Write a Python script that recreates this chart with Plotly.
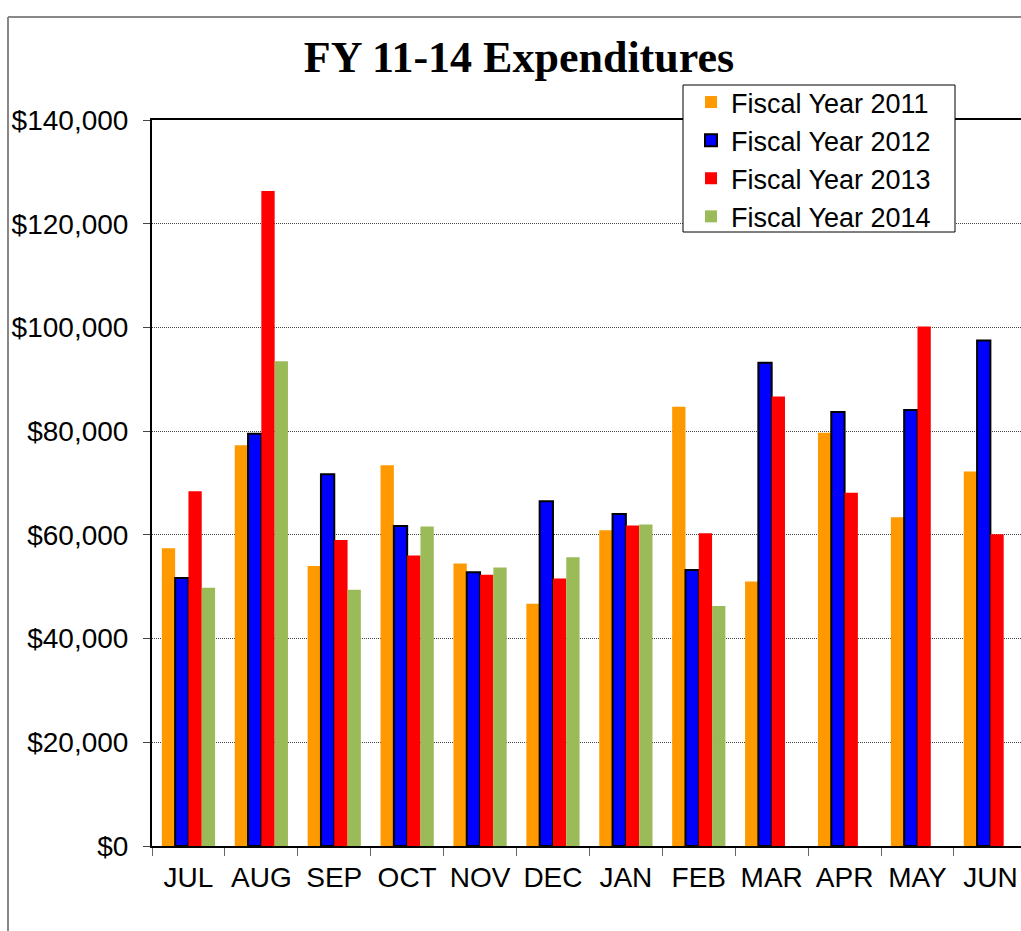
import plotly.graph_objects as go

months = ["JUL", "AUG", "SEP", "OCT", "NOV", "DEC", "JAN", "FEB", "MAR", "APR", "MAY", "JUN"]
fy2011 = [57400, 77300, 54000, 73400, 54500, 46700, 60900, 84700, 51000, 79700, 63400, 72200]
fy2012 = [51700, 79500, 71700, 61700, 52800, 66500, 64000, 53200, 93200, 83700, 84100, 97500]
fy2013 = [68400, 126300, 59000, 56000, 52300, 51600, 61800, 60300, 86700, 68100, 100200, 60100]
fy2014 = [49800, 93500, 49400, 61600, 53700, 55700, 62000, 46300, None, None, None, None]

series = [
    ("Fiscal Year 2011", fy2011, "#FF9900", 0),
    ("Fiscal Year 2012", fy2012, "#0000FF", 2),
    ("Fiscal Year 2013", fy2013, "#FF0000", 0),
    ("Fiscal Year 2014", fy2014, "#9BBB59", 0),
]

fig = go.Figure()
for name, vals, color, lw in series:
    fig.add_trace(go.Bar(
        x=months, y=vals, name=name,
        marker=dict(color=color, line=dict(color="black", width=lw)),
    ))

W, H = 1021, 931
L, T, B, R = 152, 120, 85, 0
pw, ph = W - L - R, H - T - B

def px(x):
    return (x - L) / pw

def py(y):
    return (H - B - y) / ph

fig.update_layout(
    width=W, height=H,
    margin=dict(l=L, r=R, t=T, b=B),
    paper_bgcolor="white", plot_bgcolor="white",
    barmode="group", bargap=0.27, bargroupgap=0,
    font=dict(family="Liberation Sans, Arial, sans-serif", size=28, color="black"),
    title=dict(text="<b>FY 11-14 Expenditures</b>", xref="container", yref="container",
               x=519 / W, y=1 - 57 / H, xanchor="center", yanchor="middle",
               font=dict(family="Liberation Serif, Times New Roman, serif", size=44, color="black")),
    legend=dict(x=px(691), y=py(78), xanchor="left", yanchor="top",
                bgcolor="rgba(0,0,0,0)", borderwidth=0,
                font=dict(size=27), traceorder="normal"),
    showlegend=True,
)

fig.update_xaxes(
    type="category", range=[-0.5, 11.42],
    showline=True, linecolor="black", linewidth=2, mirror=True,
    ticks="outside", tickson="boundaries", ticklen=8, tickcolor="#666", tickwidth=1,
    showgrid=False, tickfont=dict(size=28), ticklabelstandoff=5,
)
fig.update_yaxes(
    range=[0, 140000], dtick=20000, tickformat="$,",
    showline=True, linecolor="black", linewidth=2, mirror=False,
    ticks="outside", ticklen=7, tickcolor="#444", tickwidth=1,
    showgrid=True, gridcolor="#444", gridwidth=1, griddash="1px,1px",
    zeroline=False, tickfont=dict(size=28), ticklabelstandoff=9,
)

# legend frame
fig.add_shape(type="rect", xref="paper", yref="paper", layer="above",
              x0=px(683), x1=px(955), y0=py(232), y1=py(85),
              fillcolor="white", line=dict(color="black", width=1))

# outer chart border (gray), partly cropped
fig.add_shape(type="line", xref="paper", yref="paper",
              x0=px(8), x1=px(8), y0=py(17), y1=py(935),
              line=dict(color="#888888", width=2))
fig.add_shape(type="line", xref="paper", yref="paper",
              x0=px(8), x1=px(1030), y0=py(17), y1=py(17),
              line=dict(color="#888888", width=2))

fig.write_html("out.html", config={"displayModeBar": False},
               post_script="document.body.style.margin='0';document.body.style.overflow='hidden';")
